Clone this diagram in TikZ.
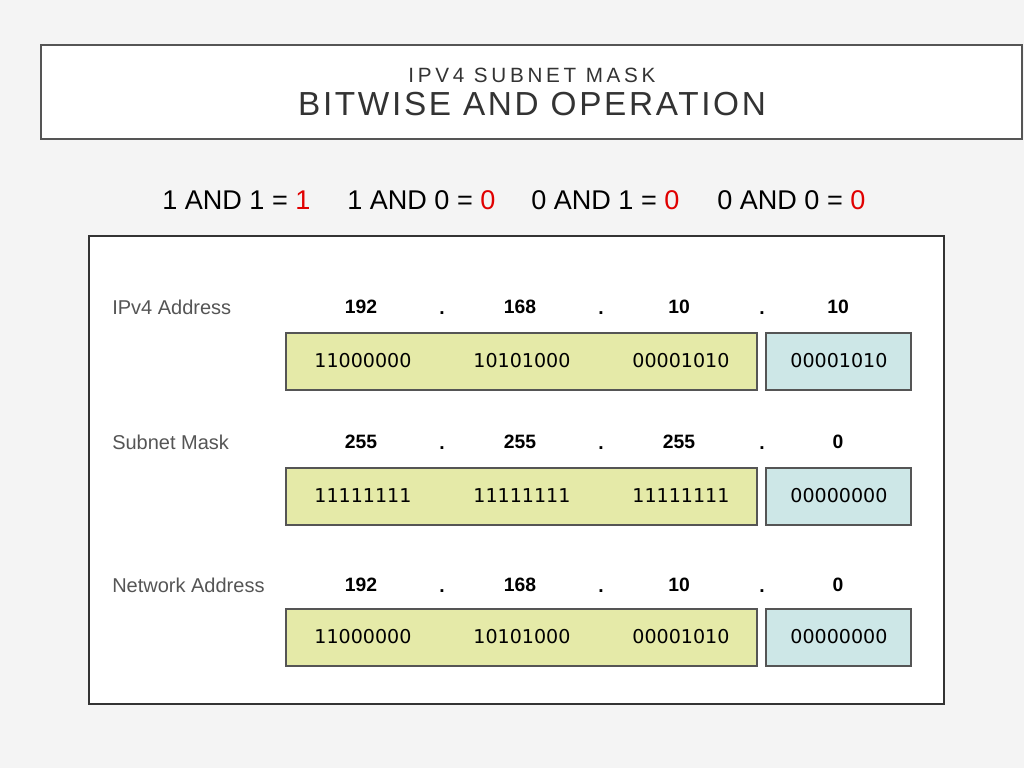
\documentclass[tikz,border=0pt]{standalone}
\usepackage{fontspec}
\setmainfont{Liberation Sans}
\newfontfamily\binfont{DejaVu Sans}
\definecolor{bg}{HTML}{F4F4F4}
\definecolor{frame}{HTML}{555555}
\definecolor{ylw}{HTML}{E5EAA8}
\definecolor{blu}{HTML}{CDE7E7}
\definecolor{eqred}{HTML}{E00000}
\definecolor{lbl}{HTML}{555555}
\begin{document}
\begin{tikzpicture}[x=0.75pt,y=-0.75pt,
  eq/.style={font=\fontsize{20.3}{23}\selectfont,anchor=west,inner sep=0},
  lab/.style={font=\fontsize{15}{18}\selectfont,text=lbl,anchor=west,inner sep=0},
  dec/.style={font=\fontsize{14.5}{17}\selectfont\bfseries,inner sep=0},
  bin/.style={font=\binfont\fontsize{14.3}{17}\selectfont,inner sep=0},
  cell/.style={draw=frame,line width=2.2pt}]
\useasboundingbox (0,0) rectangle (1024,768);
\fill[bg] (0,0) rectangle (1024,768);
\filldraw[draw=frame,fill=white,line width=2.2pt] (41,45) rectangle (1022,139);
\node[font=\fontsize{15.5}{17}\selectfont,text=black!80] (t1) at (532,75) {\addfontfeature{LetterSpace=18}IPV4 SUBNET MASK};
\node[font=\fontsize{25}{28}\selectfont,text=black!80] (t2) at (532,104) {\addfontfeature{LetterSpace=8}BITWISE AND OPERATION};
\node[eq] (e1) at (162,200) {1 AND 1 = \textcolor{eqred}{1}};
\node[eq] (e2) at (347,200) {1 AND 0 = \textcolor{eqred}{0}};
\node[eq] (e3) at (531,200) {0 AND 1 = \textcolor{eqred}{0}};
\node[eq] (e4) at (717,200) {0 AND 0 = \textcolor{eqred}{0}};
\filldraw[draw=black!80,fill=white,line width=0.8pt] (89,236) rectangle (944,704);
\foreach \y/\t/\a/\b/\c/\d/\p/\q/\r/\s/\by in
 {307/IPv4 Address/192/168/10/10/11000000/10101000/00001010/00001010/333,
  442/Subnet Mask/255/255/255/0/11111111/11111111/11111111/00000000/468,
  585/Network Address/192/168/10/0/11000000/10101000/00001010/00000000/609}{
  \node[lab] (l\y) at (112,\y) {\t};
  \node[dec] (da\y) at (361,\y) {\a};
  \node[dec] (db\y) at (520,\y) {\b};
  \node[dec] (dc\y) at (679,\y) {\c};
  \node[dec] (dd\y) at (838,\y) {\d};
  \foreach \x in {442,601,762}{\node[dec,anchor=base] at (\x,\y+7) {.};}
  \filldraw[cell,fill=ylw] (286,\by) rectangle (757,\by+57);
  \filldraw[cell,fill=blu] (766,\by) rectangle (911,\by+57);
  \node[bin] (ba\y) at (363,\by+28) {\p};
  \node[bin] (bb\y) at (522,\by+28) {\q};
  \node[bin] (bc\y) at (681,\by+28) {\r};
  \node[bin] (bd\y) at (839,\by+28) {\s};
}
\end{tikzpicture}
\end{document}
